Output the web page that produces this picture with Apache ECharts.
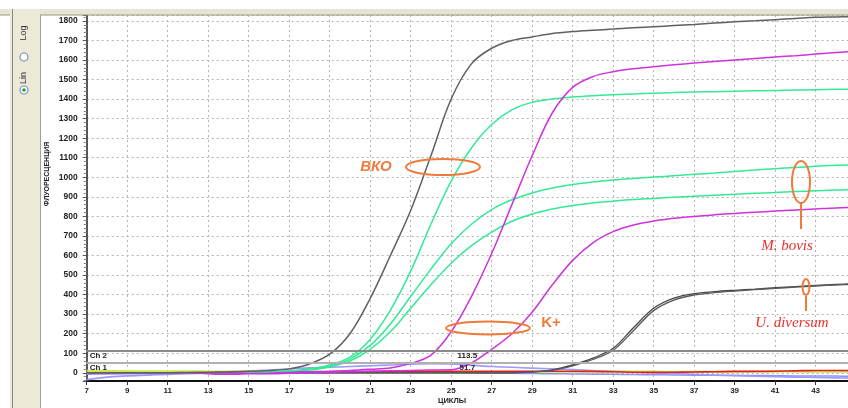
<!DOCTYPE html>
<html><head><meta charset="utf-8">
<script src="https://cdn.jsdelivr.net/npm/echarts@6/dist/echarts.min.js"></script>
<style>html,body{margin:0;padding:0;background:#fff}#c{width:848px;height:408px}</style>
</head><body><div id="c"></div>
<script>
// cycles 7..45
const cycles = [7,8,9,10,11,12,13,14,15,16,17,18,19,20,21,22,23,24,25,26,27,28,29,30,31,32,33,34,35,36,37,38,39,40,41,42,43,44,45];
const vkoGray = [0,0,0,0,0,2,3,5,8,12,20,45,95,200,380,600,830,1110,1400,1580,1660,1700,1718,1735,1745,1752,1758,1765,1770,1776,1782,1789,1795,1800,1806,1812,1818,1820,1822];
const green1 = [0,0,0,0,0,0,0,2,4,6,10,20,40,80,170,320,520,760,980,1150,1270,1345,1383,1400,1410,1417,1422,1426,1430,1433,1436,1438,1440,1442,1444,1446,1448,1450,1451];
const green2 = [0,0,0,0,0,0,0,2,3,5,8,18,35,70,140,250,390,530,660,760,835,885,920,945,963,976,986,994,1001,1008,1015,1022,1030,1037,1044,1050,1056,1061,1064];
const green3 = [0,0,0,0,0,0,0,1,2,4,6,14,30,60,120,210,330,450,560,650,720,775,812,838,856,869,878,886,892,898,903,908,913,918,922,927,931,935,937];
const magenta1 = [0,0,0,0,0,0,-5,-8,-5,-2,2,5,8,12,18,25,48,90,210,390,610,860,1110,1330,1460,1515,1540,1555,1565,1575,1584,1592,1600,1608,1615,1622,1630,1638,1644];
const magenta2 = [0,0,0,0,0,0,0,0,-3,-5,-2,0,2,5,8,10,12,14,15,50,120,200,310,450,575,665,722,756,776,790,800,808,815,821,827,833,838,843,846];
const uGray1 = [0,0,0,0,0,0,0,0,0,0,0,0,0,0,0,0,0,0,0,0,0,1,5,15,40,75,125,230,330,382,405,415,422,428,435,441,447,452,456];
const uGray2 = [0,0,0,0,0,0,0,0,0,0,0,0,0,0,0,0,0,0,0,0,0,0,4,12,35,68,115,215,318,372,398,410,418,425,432,438,444,449,453];
const blueA = [-35,-22,-16,-12,-8,-5,-2,2,8,14,20,25,28,32,36,40,44,46,45,38,32,28,24,20,16,12,8,4,0,-4,-8,-12,-15,-18,-20,-22,-24,-26,-28];
const blueB = [-8,-6,-5,-5,-4,-3,-2,0,2,3,4,5,5,6,6,5,4,3,2,0,-2,-3,-4,-5,-6,-7,-8,-9,-10,-11,-12,-12,-13,-14,-15,-16,-16,-17,-18];
const yellowGreen = [10,9,9,8,8,8,7,7,6,6,5,5,5,4,4,4,3,3,3,3,3,4,4,5,5,6,6,6,6,5,5,5,5,6,6,6,5,5,5];
const redLine = [0,0,0,0,0,0,0,3,4,5,5,4,4,5,6,6,7,7,8,8,8,8,8,8,8,7,5,3,2,3,4,5,7,7,8,10,12,12,12];
const thresholds = [113.5, 51.7];
const thresholdNames = ['Ch 2', 'Ch 1'];
const yAxisTitle = 'ФЛУОРЕСЦЕНЦИЯ';
const xAxisTitle = 'ЦИКЛЫ';

const pts = arr => cycles.map((c, i) => [c, arr[i]]);
const lbl = {fontFamily:'Liberation Sans', fontWeight:'bold', fontSize:8, color:'#222'};

function line(name, arr, color, width, z) {
  return {name, type:'line', data:pts(arr), smooth:0.35, symbol:'none', z: z||3,
    lineStyle:{color, width: width||1.5}, itemStyle:{color}, silent:true, animation:false};
}
const baseB = line('base2', blueB, '#9090ff', 1.5, 2);
baseB.markLine = {
  silent:true, symbol:['none','none'], animation:false,
  data: [
    {yAxis:thresholds[0], lineStyle:{color:'#8a8a8a', width:2, type:'solid'}, label:{formatter:thresholdNames[0], position:'insideStartBottom', distance:[3,1], ...lbl}},
    {yAxis:thresholds[0], lineStyle:{color:'#8a8a8a', width:2, type:'solid'}, label:{formatter:String(thresholds[0]), position:'insideMiddleBottom', distance:[6,1], ...lbl}},
    {yAxis:thresholds[1], lineStyle:{color:'#b0b0b0', width:2, type:'solid'}, label:{formatter:thresholdNames[1], position:'insideStartBottom', distance:[3,1], ...lbl}},
    {yAxis:thresholds[1], lineStyle:{color:'#b0b0b0', width:2, type:'solid'}, label:{formatter:String(thresholds[1]), position:'insideMiddleBottom', distance:[6,1], ...lbl}}
  ]
};

const chart = echarts.init(document.getElementById('c'), null, {renderer:'canvas'});
chart.setOption({
  animation:false,
  backgroundColor:'#fff',
  grid:{left:86.7, top:15, right:0, bottom:27, containLabel:false, outerBoundsMode:'none'},
  xAxis:{type:'value', min:7, max:44.6, interval:2,
    axisLine:{onZero:false, lineStyle:{color:'#111', width:2}},
    axisTick:{show:true, length:4, lineStyle:{color:'#333'}},
    axisLabel:{...lbl, margin:6, formatter:v => (Math.abs(v - Math.round(v)) < 1e-6 && Math.round(v) % 2 === 1) ? String(Math.round(v)) : ''},
    splitLine:{show:true, lineStyle:{color:'#b4b4b4', type:[2,3], width:1}}},
  yAxis:{type:'value', min:-42, max:1830, splitNumber:18, minInterval:100, maxInterval:100,
    axisLine:{show:true, lineStyle:{color:'#555', width:2}},
    axisTick:{show:true, length:4, lineStyle:{color:'#555'}},
    minorTick:{show:true, splitNumber:5, length:3, lineStyle:{color:'#888'}},
    axisLabel:{...lbl, fontSize:8.5, margin:9, formatter:v => (v >= 0 && v <= 1800 && v % 100 === 0) ? String(v) : ''},
    splitLine:{show:true, lineStyle:{color:'#b4b4b4', type:[2,3], width:1}}},
  series:[
    baseB,
    line('base1', blueA, '#9a9aff', 1.6, 2),
    line('base3', yellowGreen, '#c8ea4a', 2, 2),
    line('base4', redLine, '#dd2020', 1.6, 2),
    line('U. diversum 1', uGray1, '#4a4a4a', 1.3),
    line('U. diversum 2', uGray2, '#5a5a5a', 1.3),
    line('M. bovis 1', green2, '#33ea95', 1.5),
    line('M. bovis 2', green3, '#33ea95', 1.5),
    line('ВКО green', green1, '#33ea95', 1.5),
    line('K+ 1', magenta1, '#cc33dd', 1.5),
    line('K+ 2', magenta2, '#cc33dd', 1.5),
    line('ВКО', vkoGray, '#606060', 1.5)
  ],
  graphic:[
    {type:'rect', shape:{x:0, y:9, width:848, height:6}, style:{fill:'#e8e4cf'}, z:1},
    {type:'line', shape:{x1:0, y1:15, x2:848, y2:15}, style:{stroke:'#9c9884', lineWidth:1}, z:1},
    {type:'rect', shape:{x:10, y:9, width:30, height:399}, style:{fill:'#ece9d8'}, z:1},
    {type:'line', shape:{x1:12.5, y1:9, x2:12.5, y2:408}, style:{stroke:'#8c8a7c', lineWidth:1}, z:1},
    {type:'line', shape:{x1:40.5, y1:15, x2:40.5, y2:408}, style:{stroke:'#a4a296', lineWidth:1}, z:1},
    {type:'text', x:24, y:33, rotation:Math.PI/2, style:{text:'Log', fill:'#333', font:'9px "Liberation Sans"', align:'center', verticalAlign:'middle'}, z:2},
    {type:'circle', shape:{cx:24, cy:57, r:4}, style:{fill:'#fff', stroke:'#7090c0', lineWidth:1.2}, z:2},
    {type:'text', x:24, y:78, rotation:Math.PI/2, style:{text:'Lin', fill:'#333', font:'9px "Liberation Sans"', align:'center', verticalAlign:'middle'}, z:2},
    {type:'circle', shape:{cx:24, cy:90, r:4}, style:{fill:'#fff', stroke:'#7090c0', lineWidth:1.2}, z:2},
    {type:'circle', shape:{cx:24, cy:90, r:1.8}, style:{fill:'#2aa02a'}, z:3},
    {type:'text', x:47, y:174, rotation:Math.PI/2, style:{text:yAxisTitle, fill:'#222', font:'bold 7px "Liberation Sans"', align:'center', verticalAlign:'middle'}, z:2},
    {type:'text', x:452, y:401, style:{text:xAxisTitle, fill:'#222', font:'bold 7.5px "Liberation Sans"', align:'center', verticalAlign:'middle'}, z:2},
    // annotations
    {type:'text', x:376, y:167, style:{text:'ВКО', fill:'#f07a3a', font:'italic bold 15px "Liberation Sans"', align:'center', verticalAlign:'middle'}, z:50},
    {type:'ellipse', shape:{cx:443, cy:167, rx:37, ry:8}, style:{fill:'none', stroke:'#f07a3a', lineWidth:2}, z:50},
    {type:'text', x:551, y:323, style:{text:'K+', fill:'#f07a3a', font:'bold 15px "Liberation Sans"', align:'center', verticalAlign:'middle'}, z:50},
    {type:'ellipse', shape:{cx:488, cy:328, rx:42, ry:6.5}, style:{fill:'none', stroke:'#f07a3a', lineWidth:2}, z:50},
    {type:'ellipse', shape:{cx:801, cy:182, rx:9, ry:21}, style:{fill:'none', stroke:'#f07a3a', lineWidth:2}, z:50},
    {type:'line', shape:{x1:801, y1:203, x2:801, y2:229}, style:{stroke:'#f07a3a', lineWidth:2}, z:50},
    {type:'text', x:787, y:246, style:{text:'M. bovis', fill:'#e8302a', font:'italic 15px "Liberation Serif"', align:'center', verticalAlign:'middle'}, z:50},
    {type:'ellipse', shape:{cx:806, cy:287, rx:3.5, ry:8}, style:{fill:'none', stroke:'#f07a3a', lineWidth:2}, z:50},
    {type:'line', shape:{x1:806, y1:296, x2:806, y2:311}, style:{stroke:'#f07a3a', lineWidth:2}, z:50},
    {type:'text', x:792, y:323, style:{text:'U. diversum', fill:'#e8302a', font:'italic 15px "Liberation Serif"', align:'center', verticalAlign:'middle'}, z:50}
  ]
});
</script></body></html>
